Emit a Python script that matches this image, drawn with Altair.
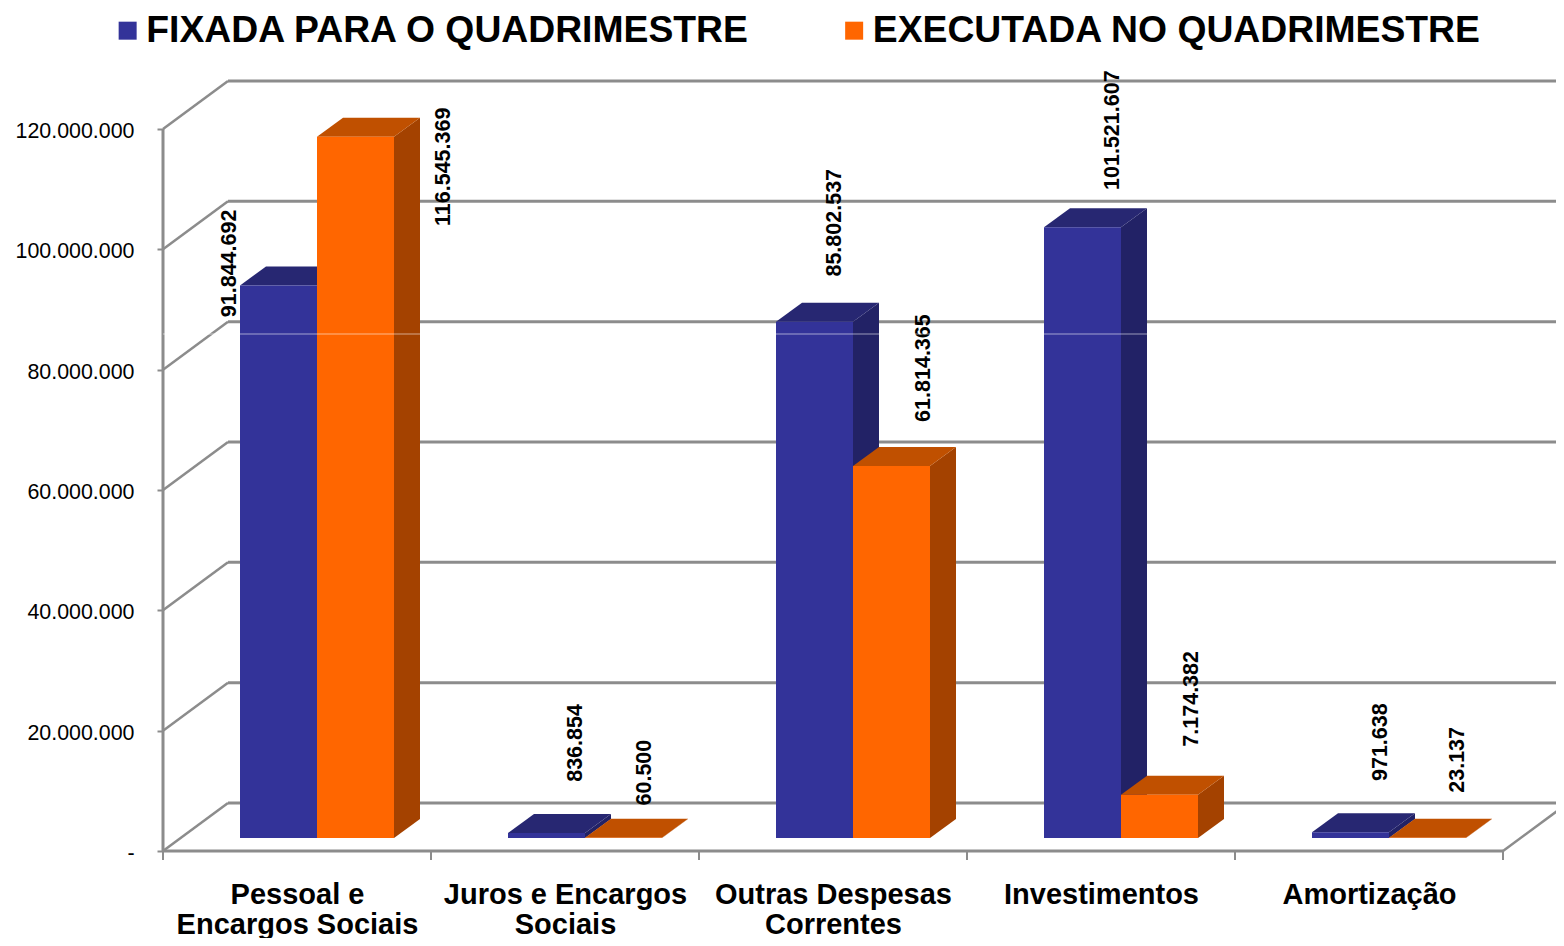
import altair as alt
import pandas as pd

categories = ["Pessoal e\nEncargos Sociais", "Juros e Encargos\nSociais", "Outras Despesas\nCorrentes",
              "Investimentos", "Amortização"]
series_names = ["FIXADA PARA O QUADRIMESTRE", "EXECUTADA NO QUADRIMESTRE"]
fixada = [91844692, 836854, 85802537, 101521607, 971638]
executada = [116545369, 60500, 61814365, 7174382, 23137]
y_ticks = [0, 20000000, 40000000, 60000000, 80000000, 100000000, 120000000]

# layout (pixels on the page)
X0, CAT_W = 163, 268          # front-left corner of the floor and category width
Y0, PX_PER_UNIT = 851, 722 / 120e6
PAGE_R, PAGE_H = 1556, 930    # right edge on the page, svg height
PLOT_TOP = 60
DEPTH_X, DEPTH_Y = 65, 48
BAR_DX, BAR_W, BAR_BASE = 77, 77, 13
BAR_DEPTH_X, BAR_DEPTH_Y = 26, 19

def ux(px):
    return px / CAT_W

def uy(px):
    return px / PX_PER_UNIT

x_max = ux(PAGE_R - X0)
y_max = uy(Y0 - PLOT_TOP)
xs = alt.Scale(domain=[0, x_max], nice=False, zero=False)
ys = alt.Scale(domain=[0, y_max], nice=False, zero=False)

GRAY = "#8C8C8C"
cat_expr = "split(" + str([c.replace("\n", "|") for c in categories]) + "[floor(datum.value)], '|')"
val_expr = "datum.value == 0 ? '-' : replace(format(datum.value, ','), /,/g, '.')"
x_axis = alt.Axis(
    values=[i + 0.5 for i in range(5)], tickSize=0, domain=False, grid=False,
    labelFont="Liberation Sans", labelFontSize=29, labelFontWeight="bold", labelColor="#000",
    labelLineHeight=30, labelPadding=29, labelBound=False, labelFlush=False, labelOverlap=False,
    labelAngle=0, labelExpr=cat_expr, labelLimit=600)
y_axis = alt.Axis(
    values=y_ticks, domain=False, grid=False, tickColor=GRAY, tickWidth=2, tickSize=6,
    labelFont="Liberation Sans", labelFontSize=21.4, labelColor="#000", labelPadding=23, labelOffset=2.5,
    labelBound=False, labelFlush=False, labelOverlap=False, labelExpr=val_expr)

def X(f, **k):
    return alt.X(f, type="quantitative", scale=xs, axis=x_axis, title=None, stack=None, **k)

def Y(f, **k):
    return alt.Y(f, type="quantitative", scale=ys, axis=y_axis, title=None, stack=None, **k)

layers = []

# back wall grid lines
back = pd.DataFrame({"v": y_ticks})
back["x"] = ux(DEPTH_X)
back["x2"] = x_max
back["y"] = back["v"] + uy(DEPTH_Y)
layers.append(alt.Chart(back).mark_rule(color=GRAY, strokeWidth=3).encode(
    x=X("x"), x2="x2:Q", y=Y("y")))

# side wall diagonals, floor corner diagonal
diag = pd.DataFrame({"v": y_ticks})
diag["x"] = 0.0
diag["x2"] = ux(DEPTH_X)
diag["y2"] = diag["v"] + uy(DEPTH_Y)
layers.append(alt.Chart(diag).mark_rule(color=GRAY, strokeWidth=2.5).encode(
    x=X("x"), x2="x2:Q", y=Y("v"), y2="y2:Q"))
corner = pd.DataFrame({"x": [5.0], "x2": [5.0 + ux(DEPTH_X)], "y": [0.0], "y2": [uy(DEPTH_Y)]})
layers.append(alt.Chart(corner).mark_rule(color=GRAY, strokeWidth=2.5).encode(
    x=X("x"), x2="x2:Q", y=Y("y"), y2="y2:Q"))

# left wall front edge, floor front edge, category ticks
layers.append(alt.Chart(pd.DataFrame({"x": [0.0], "y": [0.0], "y2": [120e6]})).mark_rule(
    color=GRAY, strokeWidth=3).encode(x=X("x"), y=Y("y"), y2="y2:Q"))
layers.append(alt.Chart(pd.DataFrame({"x": [0.0], "x2": [5.0], "y": [0.0]})).mark_rule(
    color=GRAY, strokeWidth=3).encode(x=X("x"), x2="x2:Q", y=Y("y")))
layers.append(alt.Chart(pd.DataFrame({"x": list(range(6)), "y": 0.0, "y2": uy(-9)})).mark_rule(
    color=GRAY, strokeWidth=2).encode(x=X("x"), y=Y("y"), y2="y2:Q"))

# 3-D bars
series_values = [fixada, executada]
front_cols = ["#333399", "#FF6600"]
top_cols = ["#272772", "#C05000"]
side_cols = ["#222266", "#A44200"]
base = uy(BAR_BASE)
dx, dy = ux(BAR_DEPTH_X), uy(BAR_DEPTH_Y)

for s, vals in enumerate(series_values):
    left = [i + ux(BAR_DX + s * BAR_W) for i in range(5)]
    right = [l + ux(BAR_W) for l in left]
    # side face
    rows = []
    for i, v in enumerate(vals):
        rows.append({"id": i, "x": right[i], "y": base, "y2": base + v})
        rows.append({"id": i, "x": right[i] + dx, "y": base + dy, "y2": base + v + dy})
    layers.append(alt.Chart(pd.DataFrame(rows)).mark_area(color=side_cols[s], orient="vertical").encode(
        x=X("x"), y=Y("y"), y2="y2:Q", detail="id:N"))
    # top face
    rows = []
    for i, v in enumerate(vals):
        rows.append({"id": i, "x": left[i], "x2": right[i], "y": base + v})
        rows.append({"id": i, "x": left[i] + dx, "x2": right[i] + dx, "y": base + v + dy})
    layers.append(alt.Chart(pd.DataFrame(rows)).mark_area(color=top_cols[s], orient="horizontal").encode(
        x=X("x"), x2="x2:Q", y=Y("y"), detail="id:N"))
    # front face (carries the legend)
    front = pd.DataFrame({"serie": series_names[s], "x": left, "x2": right, "y": base,
                          "y2": [base + v for v in vals]})
    layers.append(alt.Chart(front).mark_rect().encode(
        x=X("x"), x2="x2:Q", y=Y("y"), y2="y2:Q",
        color=alt.Color("serie:N", scale=alt.Scale(domain=series_names, range=front_cols), legend=alt.Legend(
            title=None, orient="none", legendX=-54, legendY=-48, direction="horizontal", columns=2,
            symbolType="square", symbolSize=324, symbolStrokeWidth=0, symbolOffset=0,
            labelFont="Liberation Sans", labelFontSize=37.3, labelFontWeight="bold", labelColor="#000",
            labelLimit=1000, labelOffset=0, columnPadding=84.5, padding=0))))

# data labels: hand-placed in the source, kept as offsets from each bar's top-right corner (px)
label_dx = [[-87, -9, -18, -8, -8], [50, -17, -6, -6, -8]]
label_dy = [[-22, -90, -99, -97, -90], [30, -65, -98, -96, -78]]
rows = []
for s, vals in enumerate(series_values):
    for i, v in enumerate(vals):
        right = i + ux(BAR_DX + s * BAR_W + BAR_W)
        rows.append({"t": f"{v:,}".replace(",", "."), "x": right + ux(label_dx[s][i]),
                     "y": base + v - uy(label_dy[s][i])})
layers.append(alt.Chart(pd.DataFrame(rows)).mark_text(
    angle=270, font="Liberation Sans", fontSize=21.5, fontWeight="bold", color="#000",
    align="center", baseline="middle").encode(x=X("x"), y=Y("y"), text="t:N"))

# thin pale line crossing the picture
layers.append(alt.Chart(pd.DataFrame({"x": [0.0], "x2": [x_max], "y": [uy(Y0 - 334)]})).mark_rule(
    color="#FFFFFF", opacity=0.55, strokeWidth=1).encode(x=X("x"), x2="x2:Q", y=Y("y")))

chart = alt.layer(*layers).properties(
    width=PAGE_R - X0,
    height=Y0 - PLOT_TOP,
    background="#FFFFFF",
    autosize=alt.AutoSizeParams(type="none"),
    padding={"left": X0 - 8, "top": PLOT_TOP - 8, "right": 0, "bottom": PAGE_H - (Y0 - 8)},
).configure_view(stroke=None)

chart.save("out.html", embed_options={"renderer": "svg", "actions": False})
